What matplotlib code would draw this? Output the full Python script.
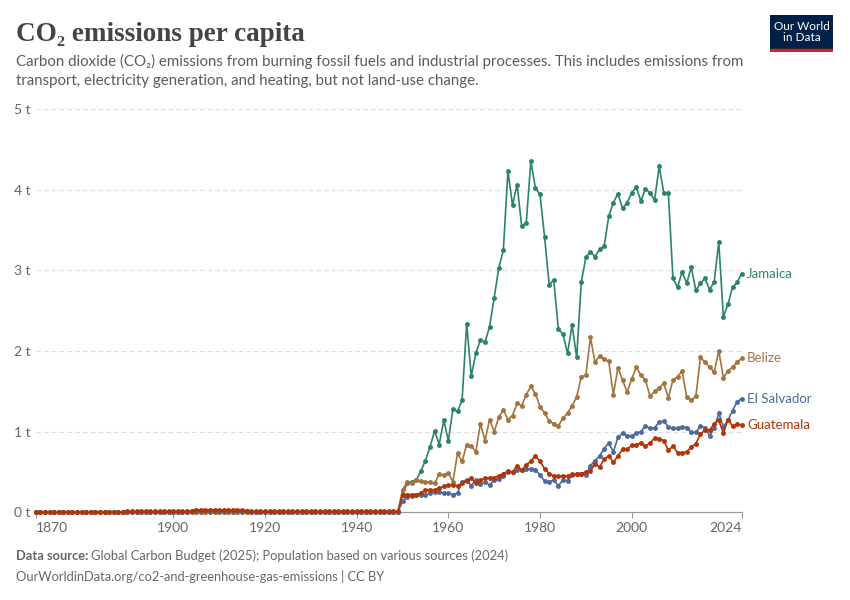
import numpy as np
import matplotlib
matplotlib.use("Agg")
import matplotlib.pyplot as plt
from matplotlib.patches import Rectangle

# years 1870-2024
years = np.arange(1870, 2025)

# 1870-1949: near zero, small bump 1904-1916 for the two larger countries
jamaica_early = [0.0] * 80
belize_early = [0.0] * 80
el_salvador_early = [
    0.00, 0.00, 0.00, 0.00, 0.00, 0.00, 0.00, 0.00, 0.00, 0.00,
    0.00, 0.00, 0.00, 0.00, 0.00, 0.00, 0.00, 0.00, 0.00, 0.00,
    0.00, 0.00, 0.00, 0.00, 0.00, 0.00, 0.00, 0.00, 0.00, 0.00,
    0.00, 0.00, 0.00, 0.00, 0.01, 0.01, 0.01, 0.01, 0.01, 0.01,
    0.01, 0.01, 0.01, 0.01, 0.01, 0.01, 0.01, 0.00, 0.00, 0.00,
    0.00, 0.00, 0.00, 0.00, 0.00, 0.00, 0.00, 0.00, 0.00, 0.00,
    0.00, 0.00, 0.00, 0.00, 0.00, 0.00, 0.00, 0.00, 0.00, 0.00,
    0.00, 0.00, 0.00, 0.00, 0.00, 0.00, 0.00, 0.00, 0.00, 0.00,
]
guatemala_early = [
    0.00, 0.00, 0.00, 0.00, 0.00, 0.00, 0.00, 0.00, 0.00, 0.00,
    0.00, 0.00, 0.00, 0.00, 0.00, 0.00, 0.00, 0.00, 0.00, 0.00,
    0.01, 0.01, 0.01, 0.01, 0.01, 0.01, 0.01, 0.01, 0.01, 0.01,
    0.01, 0.01, 0.01, 0.01, 0.02, 0.03, 0.03, 0.03, 0.03, 0.03,
    0.03, 0.03, 0.03, 0.03, 0.03, 0.03, 0.02, 0.01, 0.01, 0.01,
    0.01, 0.01, 0.01, 0.01, 0.01, 0.01, 0.01, 0.01, 0.01, 0.01,
    0.01, 0.01, 0.01, 0.01, 0.01, 0.01, 0.01, 0.01, 0.01, 0.01,
    0.01, 0.01, 0.01, 0.01, 0.01, 0.01, 0.01, 0.01, 0.01, 0.01,
]

# 1950-2024
jamaica_late = [
    0.22, 0.36, 0.38, 0.40, 0.51, 0.64, 0.81, 1.01, 0.84, 1.14,
    0.89, 1.28, 1.25, 1.39, 2.34, 1.69, 1.97, 2.14, 2.11, 2.30,
    2.66, 3.03, 3.25, 4.23, 3.81, 4.06, 3.55, 3.59, 4.35, 4.02,
    3.94, 3.41, 2.82, 2.88, 2.27, 2.21, 1.97, 2.32, 1.92, 2.85,
    3.16, 3.23, 3.17, 3.26, 3.30, 3.67, 3.84, 3.95, 3.77, 3.84,
    3.96, 4.03, 3.86, 4.01, 3.96, 3.87, 4.29, 3.96, 3.96, 2.90,
    2.79, 2.98, 2.84, 3.04, 2.75, 2.84, 2.90, 2.76, 2.86, 3.35,
    2.42, 2.58, 2.79, 2.85, 2.96,
]
belize_late = [
    0.28, 0.37, 0.36, 0.40, 0.39, 0.38, 0.37, 0.36, 0.47, 0.46,
    0.49, 0.38, 0.73, 0.63, 0.84, 0.82, 0.75, 1.10, 0.89, 1.15,
    1.00, 1.18, 1.27, 1.15, 1.20, 1.35, 1.32, 1.46, 1.56, 1.47,
    1.31, 1.23, 1.13, 1.10, 1.07, 1.17, 1.23, 1.32, 1.43, 1.68,
    1.70, 2.17, 1.86, 1.94, 1.90, 1.87, 1.46, 1.79, 1.64, 1.49,
    1.65, 1.80, 1.70, 1.64, 1.44, 1.50, 1.54, 1.60, 1.42, 1.64,
    1.68, 1.75, 1.43, 1.39, 1.44, 1.92, 1.86, 1.80, 1.74, 2.00,
    1.67, 1.75, 1.80, 1.86, 1.91,
]
el_salvador_late = [
    0.14, 0.19, 0.20, 0.21, 0.22, 0.21, 0.24, 0.25, 0.25, 0.24,
    0.24, 0.22, 0.24, 0.38, 0.40, 0.33, 0.40, 0.35, 0.37, 0.34,
    0.40, 0.41, 0.45, 0.50, 0.50, 0.52, 0.53, 0.54, 0.54, 0.53,
    0.46, 0.39, 0.38, 0.40, 0.33, 0.40, 0.39, 0.46, 0.47, 0.47,
    0.46, 0.58, 0.64, 0.70, 0.79, 0.86, 0.75, 0.93, 0.98, 0.95,
    0.95, 0.98, 1.00, 1.07, 1.04, 1.05, 1.12, 1.13, 1.06, 1.04,
    1.04, 1.06, 1.05, 0.99, 0.99, 1.07, 1.05, 0.95, 1.04, 1.23,
    1.06, 1.14, 1.26, 1.37, 1.41,
]
guatemala_late = [
    0.22, 0.22, 0.22, 0.22, 0.24, 0.28, 0.28, 0.28, 0.30, 0.32,
    0.34, 0.34, 0.33, 0.36, 0.39, 0.42, 0.36, 0.40, 0.42, 0.43,
    0.43, 0.45, 0.48, 0.51, 0.50, 0.58, 0.52, 0.59, 0.63, 0.70,
    0.63, 0.54, 0.48, 0.45, 0.45, 0.45, 0.45, 0.47, 0.48, 0.48,
    0.50, 0.51, 0.60, 0.56, 0.66, 0.70, 0.62, 0.70, 0.78, 0.78,
    0.83, 0.84, 0.86, 0.82, 0.86, 0.92, 0.91, 0.89, 0.77, 0.82,
    0.74, 0.74, 0.75, 0.81, 0.85, 0.97, 1.02, 1.02, 1.10, 1.14,
    0.98, 1.15, 1.07, 1.09, 1.08,
]

countries = ["Jamaica", "Belize", "El Salvador", "Guatemala"]
colors = ["#2C8465", "#A2753F", "#4C6A9C", "#B13507"]
series = [
    jamaica_early + jamaica_late,
    belize_early + belize_late,
    el_salvador_early + el_salvador_late,
    guatemala_early + guatemala_late,
]

x_ticks = [1870, 1900, 1920, 1940, 1960, 1980, 2000, 2024]
y_ticks = [0, 1, 2, 3, 4, 5]

W, H = 850, 600
fig = plt.figure(figsize=(W / 100, H / 100), dpi=100)
ax = fig.add_axes([35.8 / W, 1 - 512.3 / H, (741.7 - 35.8) / W, (512.3 - 109) / H])

for name, col, vals in zip(countries, colors, series):
    ax.plot(years, vals, color=col, lw=1.2, marker="o", ms=2.5,
            clip_on=False, zorder=3)
    ax.text(2025.2, vals[-1], name, color=col, fontsize=9.5,
            family=["Lato", "DejaVu Sans"], va="center", ha="left")

ax.set_xlim(1870, 2024)
ax.set_ylim(0, 5)
ax.set_yticks(y_ticks)
ax.set_yticklabels([f"{v} t" for v in y_ticks])
ax.set_xticks(x_ticks)
ax.set_xticklabels([str(v) for v in x_ticks])
for lbl in ax.get_xticklabels():
    if lbl.get_text() == "1870":
        lbl.set_ha("left")
    elif lbl.get_text() == "2024":
        lbl.set_ha("right")

for v in y_ticks[1:]:
    ax.axhline(v, color="#dddddd", lw=0.8, ls=(0, (4, 3)), zorder=1)

for s in ["top", "right", "left"]:
    ax.spines[s].set_visible(False)
ax.spines["bottom"].set_color("#999999")
ax.spines["bottom"].set_linewidth(0.9)
ax.tick_params(axis="y", length=0, pad=4, labelsize=10, labelcolor="#666666")
ax.tick_params(axis="x", length=4, color="#999999", width=0.8, pad=3,
               labelsize=10, labelcolor="#666666")
for lbl in ax.get_xticklabels() + ax.get_yticklabels():
    lbl.set_family(["Lato", "DejaVu Sans"])

# title and subtitle
fig.text(16 / W, 1 - 41 / H, "CO\u2082 emissions per capita", fontsize=19.5,
         weight="bold", family=["Liberation Serif", "DejaVu Serif"],
         color="#444444", va="baseline", ha="left")
fig.text(16 / W, 1 - 66 / H,
         "Carbon dioxide (CO\u2082) emissions from burning fossil fuels and industrial processes. This includes emissions from",
         fontsize=10.8, family=["Lato", "DejaVu Sans"], color="#5b5b5b", va="baseline")
fig.text(16 / W, 1 - 85 / H,
         "transport, electricity generation, and heating, but not land-use change.",
         fontsize=10.8, family=["Lato", "DejaVu Sans"], color="#5b5b5b", va="baseline")

# footer
src = fig.text(16 / W, 1 - 560 / H, "Data source:", fontsize=9.3, weight="bold",
               family=["Lato", "DejaVu Sans"], color="#666666", va="baseline")
fig.canvas.draw()
bb = src.get_window_extent()
fig.text(bb.x1 / W + 3 / W, 1 - 560 / H,
         "Global Carbon Budget (2025); Population based on various sources (2024)",
         fontsize=9.3, family=["Lato", "DejaVu Sans"], color="#666666", va="baseline")
fig.text(16 / W, 1 - 581 / H,
         "OurWorldinData.org/co2-and-greenhouse-gas-emissions | CC BY",
         fontsize=9.3, family=["Lato", "DejaVu Sans"], color="#666666", va="baseline")

# logo
logo = fig.add_axes([770 / W, 1 - 52 / H, 63 / W, 37 / H])
logo.set_xlim(0, 1)
logo.set_ylim(0, 1)
logo.axis("off")
logo.add_patch(Rectangle((0, 0.08), 1, 0.92, color="#002147"))
logo.add_patch(Rectangle((0, 0), 1, 0.08, color="#CE261E"))
logo.text(0.5, 0.55, "Our World\nin Data", color="white", fontsize=8.5,
          family=["Lato", "DejaVu Sans"], ha="center", va="center",
          linespacing=1.0)

fig.savefig("out.png", dpi=100)
